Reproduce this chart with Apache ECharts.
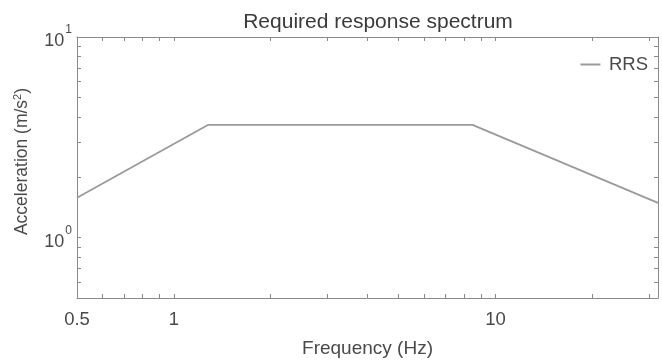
<!DOCTYPE html>
<html><head><meta charset="utf-8">
<script src="https://cdn.jsdelivr.net/npm/echarts@6/dist/echarts.min.js"></script>
<style>html,body{margin:0;padding:0;background:#fff}#c{width:662px;height:363px}</style>
</head><body><div id="c"></div>
<script>
const freq = [0.5, 1.28, 8.48, 32];
const accel = [1.58, 3.65, 3.65, 1.49];
const xTicks = [0.5,0.6,0.7,0.8,0.9,1,2,3,4,5,6,7,8,9,10,20,30];
const xLabels = [0.5, 1, 10];
const yTicks = [0.5,0.6,0.7,0.8,0.9,1,2,3,4,5,6,7,8,9,10];
const yLabels = [1, 10];
const yLabelText = {1:'{b|10}{s|0}', 10:'{b|10}{s|1}'};

const chart = echarts.init(document.getElementById('c'));
const axisCol = '#8a8a8a';
const txtCol = '#4a4a4a';
const font = 'Liberation Sans, Arial, sans-serif';
function xAx(pos, show){
  return {type:'log', logBase:10, min:0.5, max:32, position:pos,
    axisLine:{show:true, onZero:false, lineStyle:{color:axisCol,width:1}},
    axisTick:{show:true, inside:true, length:4, customValues:xTicks, lineStyle:{color:axisCol}},
    axisLabel:{show:show, customValues:xLabels, color:txtCol, fontSize:18.5, fontFamily:font, margin:12,
      formatter:v=>String(+v.toPrecision(3))},
    splitLine:{show:false}, minorTick:{show:false},
    name: show?'Frequency (Hz)':'', nameLocation:'middle', nameGap:41,
    nameTextStyle:{color:txtCol,fontSize:19,fontFamily:font}};
}
function yAx(pos, show){
  return {type:'log', logBase:10, min:0.5, max:10, position:pos,
    axisLine:{show:true, onZero:false, lineStyle:{color:axisCol,width:1}},
    axisTick:{show:true, inside:true, length:4, customValues:yTicks, lineStyle:{color:axisCol}},
    axisLabel:{show:show, customValues:yLabels, color:txtCol, fontSize:18, fontFamily:font, margin:5,
      formatter:v=>yLabelText[Math.round(v)]||'',
      rich:{b:{fontSize:18, verticalAlign:'bottom', color:txtCol, fontFamily:font},
            s:{fontSize:12, verticalAlign:'top', padding:[0,0,14,1], color:txtCol, fontFamily:font}}},
    splitLine:{show:false},
    name: show?'Acceleration (m/s{s|2})':'', nameLocation:'middle', nameGap:44,
    nameTextStyle:{color:txtCol,fontSize:17.5,fontFamily:font, padding:[0,0,0,12],
      rich:{s:{fontSize:11, padding:[0,0,10,0], color:txtCol, fontFamily:font}}}};
}
chart.setOption({
  animation:false,
  title:{text:'Required response spectrum', left:373, textAlign:'center', top:7,
    textStyle:{color:'#3a3a3a', fontSize:21, fontWeight:'normal', fontFamily:font}},
  grid:{left:77, right:4, top:37, bottom:63},
  legend:{show:true, right:9, top:50, itemWidth:27, itemGap:4,
    textStyle:{color:txtCol, fontSize:18.5, fontFamily:font},
    data:[{name:'RRS', icon:'path://M0,0 L10,0 L10,1 L0,1 Z'}], itemHeight:2},
  xAxis:[xAx('bottom',true), xAx('top',false)],
  yAxis:[yAx('left',true), yAx('right',false)],
  series:[{name:'RRS', type:'line', symbol:'none', xAxisIndex:0, yAxisIndex:0,
    lineStyle:{color:'#9a9a9a', width:1.8},
    itemStyle:{color:'#9a9a9a'},
    data:freq.map((f,i)=>[f,accel[i]])}]
});
</script></body></html>
